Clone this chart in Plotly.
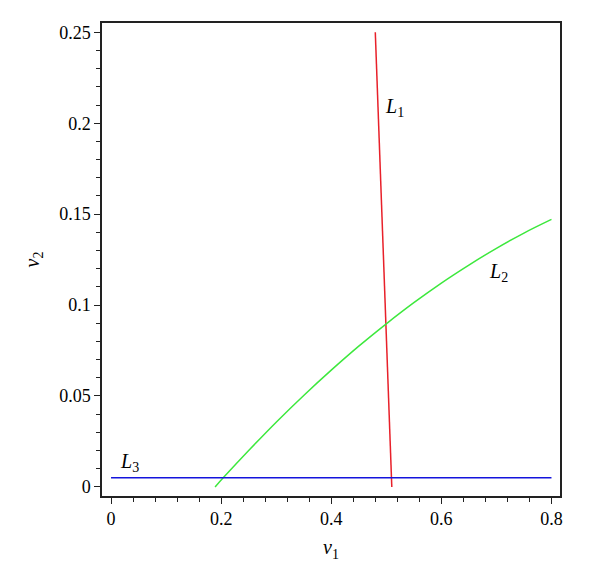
import plotly.graph_objects as go

# L1 (red)
l1_x = [0.480, 0.486, 0.492, 0.498, 0.504, 0.510]
l1_y = [0.250, 0.200, 0.150, 0.100, 0.050, 0.000]
# L2 (green)
l2_x = [0.189, 0.205, 0.25, 0.30, 0.35, 0.40, 0.45, 0.50, 0.55, 0.60, 0.65, 0.70, 0.75, 0.80]
l2_y = [0.000, 0.0054, 0.0200, 0.0356, 0.0503, 0.0642, 0.0774, 0.0897, 0.1013, 0.1121, 0.1220, 0.1312, 0.1396, 0.1471]
# L3 (blue)
l3_x = [0.0, 0.8]
l3_y = [0.005, 0.005]

labels = ["<i>L</i><sub>1</sub>", "<i>L</i><sub>2</sub>", "<i>L</i><sub>3</sub>"]
label_x = [0.5155, 0.7036, 0.033]
label_y = [0.2087, 0.118, 0.0132]

FONT = "Liberation Serif, Times New Roman, DejaVu Serif, serif"

fig = go.Figure()
fig.add_trace(go.Scatter(x=l1_x, y=l1_y, mode="lines", line=dict(color="#e8202a", width=1.5), showlegend=False))
fig.add_trace(go.Scatter(x=l2_x, y=l2_y, mode="lines", line=dict(color="#3de83d", width=1.5, shape="spline"), showlegend=False))
fig.add_trace(go.Scatter(x=l3_x, y=l3_y, mode="lines", line=dict(color="#1414dc", width=1.5), showlegend=False))

for t, x, y in zip(labels, label_x, label_y):
    fig.add_annotation(x=x, y=y, text=t, showarrow=False, font=dict(family=FONT, size=20, color="black"))

axis_common = dict(
    showline=True, linecolor="#222", linewidth=1.5, mirror=True,
    ticks="outside", ticklen=6, tickcolor="#222", tickwidth=1,
    showgrid=False, zeroline=False,
    tickfont=dict(family=FONT, size=18, color="black"),
)

fig.update_xaxes(
    range=[-0.0164, 0.8155], tick0=0, dtick=0.2, tickformat="~g",
    minor=dict(dtick=0.04, tick0=0, ticks="outside", ticklen=4, tickcolor="#222", showgrid=False),
    title=dict(text="<i>v</i><sub>1</sub>", font=dict(family=FONT, size=20, color="black"), standoff=12),
    **axis_common,
)
fig.update_yaxes(
    range=[-0.005, 0.2551], tick0=0, dtick=0.05, tickformat="~g",
    minor=dict(dtick=0.01, tick0=0, ticks="outside", ticklen=4, tickcolor="#222", showgrid=False),
    title=dict(text="<i>v</i><sub>2</sub>", font=dict(family=FONT, size=20, color="black"), standoff=14),
    **axis_common,
)

fig.update_layout(
    width=600, height=580,
    margin=dict(l=102, r=40, t=23, b=84),
    plot_bgcolor="white", paper_bgcolor="white",
    font=dict(family=FONT, color="black"),
)

fig.write_html("out.html", config={"displayModeBar": False},
               post_script="document.body.style.margin='0px';")
